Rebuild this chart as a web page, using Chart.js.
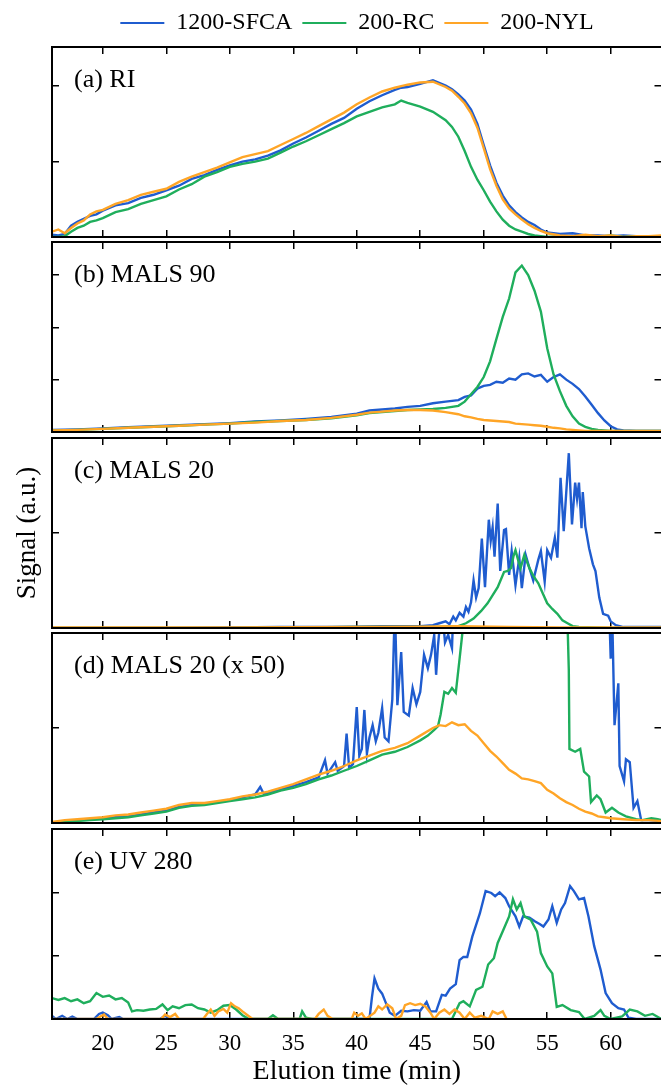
<!DOCTYPE html>
<html>
<head>
<meta charset="utf-8">
<script src="https://cdn.jsdelivr.net/npm/chart.js@4.4.1/dist/chart.umd.min.js"></script>
<style>
  html, body { margin: 0; padding: 0; background: #fff; overflow: hidden; }
  #fig { position: relative; width: 661px; height: 1086px; overflow: hidden; }
  #fig canvas { position: absolute; left: 0; }
</style>
</head>
<body>
<div id="fig">
  <canvas id="legend" width="610" height="46" style="left:52px;top:1px"></canvas>
  <canvas id="panel0" width="672" height="210" style="top:37px"></canvas>
  <canvas id="panel1" width="672" height="210" style="top:232px"></canvas>
  <canvas id="panel2" width="672" height="210" style="top:428px"></canvas>
  <canvas id="panel3" width="672" height="210" style="top:623px"></canvas>
  <canvas id="panel4" width="672" height="267" style="top:819px"></canvas>
</div>
<script>
// ---- series / ticks ----
const seriesNames  = ['1200-SFCA', '200-RC', '200-NYL'];
const seriesColors = ['#1f5ccf', '#1fae5c', '#ffa526'];
const timeTicks = [20, 25, 30, 35, 40, 45, 50, 55, 60];

// (a) RI
const riTime = [16,16.5,17,17.5,18,18.5,19,19.5,20,21,22,23,24,25,26,27,28,29,30,31,32,33,34,35,36,37,38,39,40,41,42,43,43.5,44,45,46,47,47.5,48,48.5,49,49.5,50,50.5,51,51.5,52,52.5,53,53.5,54,54.5,55,56,57,58,59,60,61,62,63,64];
const riSfca = [0.03,0.02,0.04,0.15,0.2,0.24,0.28,0.3,0.35,0.42,0.45,0.52,0.56,0.62,0.68,0.77,0.82,0.89,0.95,1.0,1.03,1.08,1.15,1.24,1.32,1.41,1.5,1.58,1.7,1.8,1.88,1.95,1.98,1.99,2.03,2.08,2.01,1.96,1.89,1.81,1.69,1.5,1.22,0.95,0.72,0.55,0.42,0.33,0.26,0.2,0.16,0.1,0.06,0.04,0.05,0.02,0.02,0.01,0.02,0.01,0.01,0.01];
const riRc   = [0,0,0.01,0.07,0.12,0.15,0.2,0.22,0.25,0.33,0.37,0.44,0.49,0.54,0.63,0.7,0.8,0.86,0.93,0.97,1.0,1.04,1.12,1.2,1.27,1.35,1.43,1.51,1.6,1.66,1.72,1.76,1.81,1.78,1.73,1.66,1.55,1.46,1.33,1.14,0.93,0.76,0.62,0.47,0.34,0.23,0.15,0.1,0.07,0.04,0.02,0.01,0,0.01,0,0.02,0,0.02,0,0.01,0,0.01];
const riNyl  = [0.07,0.1,0.05,0.12,0.18,0.22,0.3,0.34,0.36,0.44,0.49,0.56,0.6,0.64,0.73,0.8,0.86,0.92,0.99,1.06,1.1,1.14,1.22,1.3,1.38,1.47,1.56,1.65,1.76,1.85,1.93,1.98,2.0,2.02,2.05,2.06,1.99,1.94,1.86,1.77,1.64,1.45,1.18,0.9,0.68,0.5,0.38,0.3,0.23,0.17,0.12,0.08,0.05,0.02,0.01,0.03,0.01,0.02,0,0.01,0.01,0.02];

// (b) MALS 90
const m90Time = [16,18,20,22,24,26,28,30,32,34,36,38,40,41,42,43,44,45,46,47,48,48.5,49,49.5,50,50.5,51,51.5,52,52.5,53,53.5,54,54.5,55,55.5,56,56.5,57,57.5,58,58.5,59,59.5,60,60.5,61,62,63,64];
const m90Sfca = [0.04,0.05,0.07,0.09,0.11,0.13,0.15,0.17,0.2,0.22,0.25,0.29,0.35,0.41,0.43,0.45,0.48,0.5,0.55,0.58,0.61,0.67,0.7,0.83,0.88,0.9,0.96,0.94,1.02,1.0,1.1,1.12,1.06,1.09,0.96,1.05,1.1,1.0,0.92,0.82,0.68,0.52,0.36,0.22,0.11,0.05,0.03,0.02,0.02,0.02];
const m90Rc   = [0.03,0.04,0.06,0.08,0.1,0.12,0.14,0.16,0.19,0.21,0.23,0.26,0.32,0.36,0.38,0.4,0.42,0.43,0.44,0.46,0.5,0.58,0.72,0.86,1.05,1.35,1.78,2.2,2.55,3.05,3.18,3.0,2.7,2.3,1.6,1.1,0.78,0.5,0.3,0.16,0.1,0.06,0.04,0.03,0.02,0.02,0.02,0.02,0.02,0.02];
const m90Nyl  = [0.03,0.04,0.06,0.08,0.1,0.12,0.14,0.16,0.18,0.21,0.23,0.27,0.33,0.37,0.39,0.41,0.42,0.42,0.41,0.38,0.34,0.3,0.28,0.25,0.23,0.22,0.21,0.2,0.19,0.16,0.15,0.14,0.13,0.12,0.1,0.08,0.07,0.05,0.04,0.03,0.02,0.02,0.02,0.02,0.02,0.02,0.02,0.02,0.02,0.02];

// (c) MALS 20
const m20SfcaTime = [16,25,30,34,38,40,42,44,45,46,46.5,47,47.3,47.6,47.8,48.1,48.4,48.6,48.8,49,49.2,49.4,49.6,49.85,50.1,50.4,50.55,50.7,50.85,51.1,51.3,51.6,51.75,52,52.2,52.5,52.8,53,53.3,53.6,53.9,54.3,54.5,54.8,55,55.3,55.6,55.8,56.05,56.3,56.7,56.95,57.2,57.35,57.5,57.7,57.8,58,58.3,58.6,58.8,59.1,59.4,59.8,60,60.4,61,62,64];
const m20Sfca     = [0,0,0.005,0.01,0.01,0.015,0.02,0.02,0.02,0.03,0.05,0.07,0.04,0.12,0.08,0.16,0.12,0.22,0.17,0.27,0.5,0.32,0.42,0.94,0.43,1.14,0.92,1.06,0.75,1.31,0.6,1.03,1.04,0.56,0.81,0.45,0.74,0.42,0.77,0.63,0.5,0.72,0.81,0.49,0.82,0.74,0.95,0.74,1.58,1.02,1.84,1.09,1.53,1.36,1.53,1.05,1.43,1.07,0.84,0.67,0.6,0.32,0.15,0.13,0.07,0.03,0.01,0.01,0.01];
const m20RcTime = [16,30,40,46,48,48.6,49.2,49.8,50.3,51.1,51.6,51.9,52.15,52.35,52.5,52.7,52.9,53.2,53.4,53.6,53.9,54.3,54.6,55,55.4,55.8,56.2,56.6,57,57.5,60,64];
const m20Rc     = [0,0,0.01,0.01,0.02,0.05,0.1,0.18,0.26,0.43,0.59,0.6,0.63,0.76,0.82,0.72,0.63,0.77,0.7,0.63,0.55,0.47,0.38,0.26,0.2,0.15,0.08,0.05,0.02,0.01,0,0];
const m20NylTime = [16,30,40,45,48,52,56,64];
const m20Nyl     = [0.005,0.005,0.01,0.015,0.02,0.01,0.005,0.005];

// (d) MALS 20 (x 50)
const m20xSfcaTime = [16,17,18,19,20,21,22,23,24,25,26,27,28,29,30,31,32,32.4,32.7,33,34,35,36,37,37.5,37.7,38.3,38.5,39,39.2,39.4,39.7,40,40.2,40.4,40.6,40.8,41,41.25,41.5,41.7,42,42.2,42.5,42.8,43,43.2,43.5,43.7,44.1,44.4,44.7,45,45.3,45.6,45.85,46.1,46.25,46.4,46.7,46.95,47.2,47.5,47.7,59.8,60,60.1,60.3,60.6,60.7,61.05,61.2,61.5,61.8,62.1,62.4,63,64];
const m20xSfca     = [0,0.02,0.03,0.04,0.05,0.06,0.07,0.09,0.11,0.13,0.17,0.19,0.2,0.22,0.24,0.27,0.3,0.38,0.3,0.32,0.35,0.39,0.43,0.48,0.66,0.52,0.64,0.55,0.6,0.94,0.58,0.62,1.22,0.71,0.78,1.19,0.73,0.9,1.03,0.86,0.95,1.21,0.9,0.86,1.3,2.3,1.24,1.8,1.17,1.13,1.42,1.25,1.38,1.77,1.63,1.77,1.98,1.56,1.87,2.3,1.9,1.98,1.84,2.6,2.6,1.73,2.3,1.03,1.47,0.6,0.44,0.67,0.64,0.16,0.23,0.03,0.03,0.02];
const m20xRcTime = [16,17,18,19,20,21,22,23,24,25,26,27,28,29,30,31,32,33,34,35,36,37,38,39,40,41,42,43,44,45,45.6,46.1,46.4,46.6,46.9,47.2,47.5,47.8,48.1,48.4,48.8,56.5,56.7,56.75,57.2,57.6,57.9,58.3,58.45,58.9,59.2,59.6,60.1,60.6,61.2,62,62.5,63.2,63.7,64];
const m20xRc     = [0,0.01,0.02,0.03,0.04,0.05,0.06,0.08,0.1,0.12,0.16,0.18,0.19,0.21,0.23,0.25,0.27,0.3,0.34,0.37,0.41,0.46,0.5,0.55,0.6,0.66,0.72,0.75,0.8,0.87,0.92,0.98,1.02,1.14,1.38,1.36,1.42,1.37,1.73,2.1,2.6,2.6,1.61,0.78,0.75,0.78,0.54,0.49,0.22,0.29,0.25,0.11,0.16,0.11,0.07,0.04,0.03,0.05,0.04,0.03];
const m20xNylTime = [16,17,18,19,20,21,22,23,24,25,26,27,28,29,30,31,32,33,34,35,36,37,38,39,40,41,42,43,44,45,46,46.5,47,47.5,48,48.5,49,49.5,50,50.5,51,51.5,52,52.5,53,53.5,54,54.5,55,55.5,56,56.5,57,57.5,58,58.5,59,59.5,60,61,62,63,64];
const m20xNyl     = [0.01,0.03,0.04,0.05,0.06,0.08,0.09,0.11,0.13,0.15,0.19,0.21,0.21,0.23,0.25,0.28,0.3,0.33,0.37,0.41,0.46,0.51,0.55,0.6,0.66,0.71,0.76,0.79,0.84,0.92,1.0,1.03,1.02,1.06,1.03,1.04,0.97,0.92,0.84,0.76,0.7,0.63,0.56,0.52,0.47,0.46,0.44,0.42,0.35,0.31,0.26,0.22,0.19,0.15,0.12,0.1,0.07,0.06,0.05,0.04,0.03,0.03,0.02];

// (e) UV 280
const uvSfcaTime = [16,16.3,16.8,17.2,17.6,18,19.3,19.7,20,20.4,20.7,21.3,21.6,24.5,24.9,25.3,41,41.2,41.4,41.7,42,42.3,42.6,43,43.5,44,44.5,45,45.5,45.8,46.25,46.7,47,47.35,47.8,48.1,48.4,48.7,49.1,49.7,50.15,50.6,50.9,51.25,51.7,52,52.5,52.8,53.1,53.6,54.05,54.4,54.7,55.1,55.4,55.75,56.1,56.4,56.8,57.1,57.5,57.9,58.25,58.7,59.2,59.6,60.1,60.6,61.05,61.4,62,64];
const uvSfca     = [0.05,0,0.05,0,0.04,0,0,0.08,0.1,0.06,0,0.03,0,0,0.05,0,0,0.35,0.64,0.48,0.4,0.25,0.1,0.05,0.13,0.12,0.14,0.13,0.27,0.12,0.12,0.38,0.37,0.48,0.55,0.93,0.98,0.98,1.3,1.67,2.02,1.99,1.94,2.0,1.91,1.78,1.62,1.46,1.62,1.6,1.54,1.5,1.46,1.57,1.78,1.52,1.73,1.83,2.1,2.02,1.89,1.91,1.62,1.15,0.78,0.41,0.25,0.17,0.15,0.02,0,0];
const uvRcTime = [16,16.5,17,17.5,18,18.5,19,19.5,20,20.5,21,21.5,22,22.3,22.7,23.2,23.7,24.2,24.7,25.1,25.5,26,26.5,27,27.5,28,28.5,29,29.5,30,30.5,31,31.5,33,33.4,33.8,35.5,35.7,36,36.5,47.5,48.1,48.4,48.9,49.4,49.9,50.35,50.8,51.1,51.55,52,52.3,52.6,52.9,53.2,53.7,54.2,54.5,55,55.4,55.75,56.2,56.85,57.5,57.95,58.7,59.2,59.5,60,60.9,61.5,62.1,62.7,63.3,64];
const uvRc     = [0.33,0.3,0.33,0.28,0.31,0.25,0.28,0.41,0.35,0.37,0.31,0.33,0.26,0.12,0.14,0.13,0.15,0.16,0.23,0.14,0.2,0.17,0.22,0.23,0.17,0.15,0.1,0.14,0.21,0.22,0.15,0.06,0,0,0.06,0,0,0.12,0.02,0,0,0.25,0.28,0.2,0.46,0.51,0.86,0.96,1.2,1.41,1.62,1.89,1.73,1.83,1.62,1.57,1.38,1.04,0.83,0.72,0.19,0.22,0.14,0.11,0,0.05,0.14,0.05,0,0.04,0.15,0.12,0.05,0.08,0];
const uvNylTime = [16,19.5,19.8,20.1,20.4,24.6,24.9,25.3,25.7,26,27.9,28.2,28.5,28.8,29.1,29.5,29.8,30.1,30.4,30.7,31,31.4,31.8,36.7,37,37.4,37.7,38.1,39.6,39.8,40.1,40.4,40.7,41.4,41.7,42,42.4,42.8,43.1,43.5,43.8,44.2,44.6,45,45.4,45.8,46.1,46.5,46.9,47.3,47.7,48.1,48.5,48.9,49.3,49.8,50.4,50.7,51.1,51.5,51.8];
const uvNyl     = [0,0,0.04,0.07,0,0,0.07,0.03,0.08,0,0,0.08,0.15,0.05,0.12,0.16,0.1,0.25,0.2,0.17,0.12,0.06,0,0,0.08,0.15,0.05,0,0,0.1,0.05,0.09,0,0.1,0.2,0.15,0.23,0.17,0,0.05,0.22,0.25,0.22,0.24,0.2,0.1,0,0.1,0.15,0.08,0.15,0.1,0,0.1,0.02,0.05,0,0.12,0.08,0.12,0];

const panels = [
  { tag: '(a) RI',            max: 2.52, yTicks: [1, 2],    series: [[riTime, riSfca], [riTime, riRc], [riTime, riNyl]] },
  { tag: '(b) MALS 90',       max: 3.63, yTicks: [1, 2, 3], series: [[m90Time, m90Sfca], [m90Time, m90Rc], [m90Time, m90Nyl]] },
  { tag: '(c) MALS 20',       max: 2,    yTicks: [1],       series: [[m20SfcaTime, m20Sfca], [m20RcTime, m20Rc], [m20NylTime, m20Nyl]] },
  { tag: '(d) MALS 20 (x 50)', max: 2,   yTicks: [1],       series: [[m20xSfcaTime, m20xSfca], [m20xRcTime, m20xRc], [m20xNylTime, m20xNyl]] },
  { tag: '(e) UV 280',        max: 3,    yTicks: [1, 2],    series: [[uvSfcaTime, uvSfca], [uvRcTime, uvRc], [uvNylTime, uvNyl]] }
];

Chart.defaults.font.family = '"Liberation Serif", "Times New Roman", serif';
Chart.defaults.color = '#000';

/* panel letter inside the top-left corner */
const panelTag = {
  id: 'panelTag',
  afterDatasetsDraw(chart, args, opts) {
    const { ctx, chartArea } = chart;
    ctx.save();
    ctx.font = '26px "Liberation Serif"';
    ctx.fillStyle = '#000';
    ctx.textBaseline = 'alphabetic';
    ctx.fillText(opts.text, chartArea.left + 22, chartArea.top + 40);
    ctx.restore();
  }
};

function line(i, time, vals) {
  return {
    label: seriesNames[i],
    data: time.map((t, k) => ({ x: t, y: vals[k] })),
    borderColor: seriesColors[i],
    backgroundColor: seriesColors[i],
    borderWidth: 2.4,
    pointRadius: 0,
    tension: 0,
    order: 3 - i          // orange on top, blue underneath
  };
}

const tickMarks = () => ({ drawOnChartArea: false, drawTicks: true, tickLength: -7, tickWidth: 1.5, lineWidth: 1.5, color: '#000' });
const spine = () => ({ display: true, color: '#000', width: 2, z: 1 });
const setTicks = list => scale => { scale.ticks = list.map(v => ({ value: v })); };

function makePanel(p, idx) {
  const last = idx === panels.length - 1;
  new Chart(document.getElementById('panel' + idx), {
    type: 'line',
    data: { datasets: p.series.map(([t, v], i) => line(i, t, v)) },
    options: {
      responsive: false,
      animation: false,
      events: [],
      layout: { padding: 0 },
      plugins: { legend: { display: false }, tooltip: { enabled: false }, panelTag: { text: p.tag } },
      scales: {
        x: {
          type: 'linear', position: 'bottom', min: 16, max: 64,
          grid: tickMarks(), border: spine(),
          afterBuildTicks: setTicks(timeTicks),
          ticks: { display: last, font: { size: 23 }, padding: 18, maxRotation: 0, autoSkip: false },
          title: { display: last, text: 'Elution time (min)', font: { size: 28, lineHeight: 1 }, padding: 0 },
          afterFit: s => { s.height = last ? 67 : 10; }
        },
        xTop: {
          type: 'linear', axis: 'x', position: 'top', min: 16, max: 64,
          grid: tickMarks(), border: spine(),
          afterBuildTicks: setTicks(timeTicks),
          ticks: { display: false },
          afterFit: s => { s.height = 10; }
        },
        y: {
          type: 'linear', position: 'left', min: 0, max: p.max,
          grid: tickMarks(), border: spine(),
          afterBuildTicks: setTicks(p.yTicks),
          ticks: { display: false },
          title: { display: idx === 2, text: 'Signal (a.u.)', font: { size: 27, lineHeight: 1 }, padding: { top: 14.5, bottom: 0 } },
          afterFit: s => { s.width = 52; }
        },
        yRight: {
          type: 'linear', axis: 'y', position: 'right', min: 0, max: p.max,
          grid: tickMarks(), border: spine(),
          afterBuildTicks: setTicks(p.yTicks),
          ticks: { display: false },
          afterFit: s => { s.width = 10.5; }
        }
      }
    },
    plugins: [panelTag]
  });
}

panels.forEach(makePanel);

/* shared legend above the stack */
new Chart(document.getElementById('legend'), {
  type: 'line',
  data: {
    datasets: seriesNames.map((name, i) => ({
      label: name, data: [], borderColor: seriesColors[i], backgroundColor: seriesColors[i], borderWidth: 0
    }))
  },
  options: {
    responsive: false,
    animation: false,
    events: [],
    layout: { padding: 0 },
    scales: { x: { display: false }, y: { display: false } },
    plugins: {
      tooltip: { enabled: false },
      legend: {
        display: true, position: 'top', align: 'center', maxHeight: 46,
        labels: { font: { size: 24 }, color: '#000', boxWidth: 44, boxHeight: 2, padding: 10 }
      }
    }
  }
});
</script>
</body>
</html>
